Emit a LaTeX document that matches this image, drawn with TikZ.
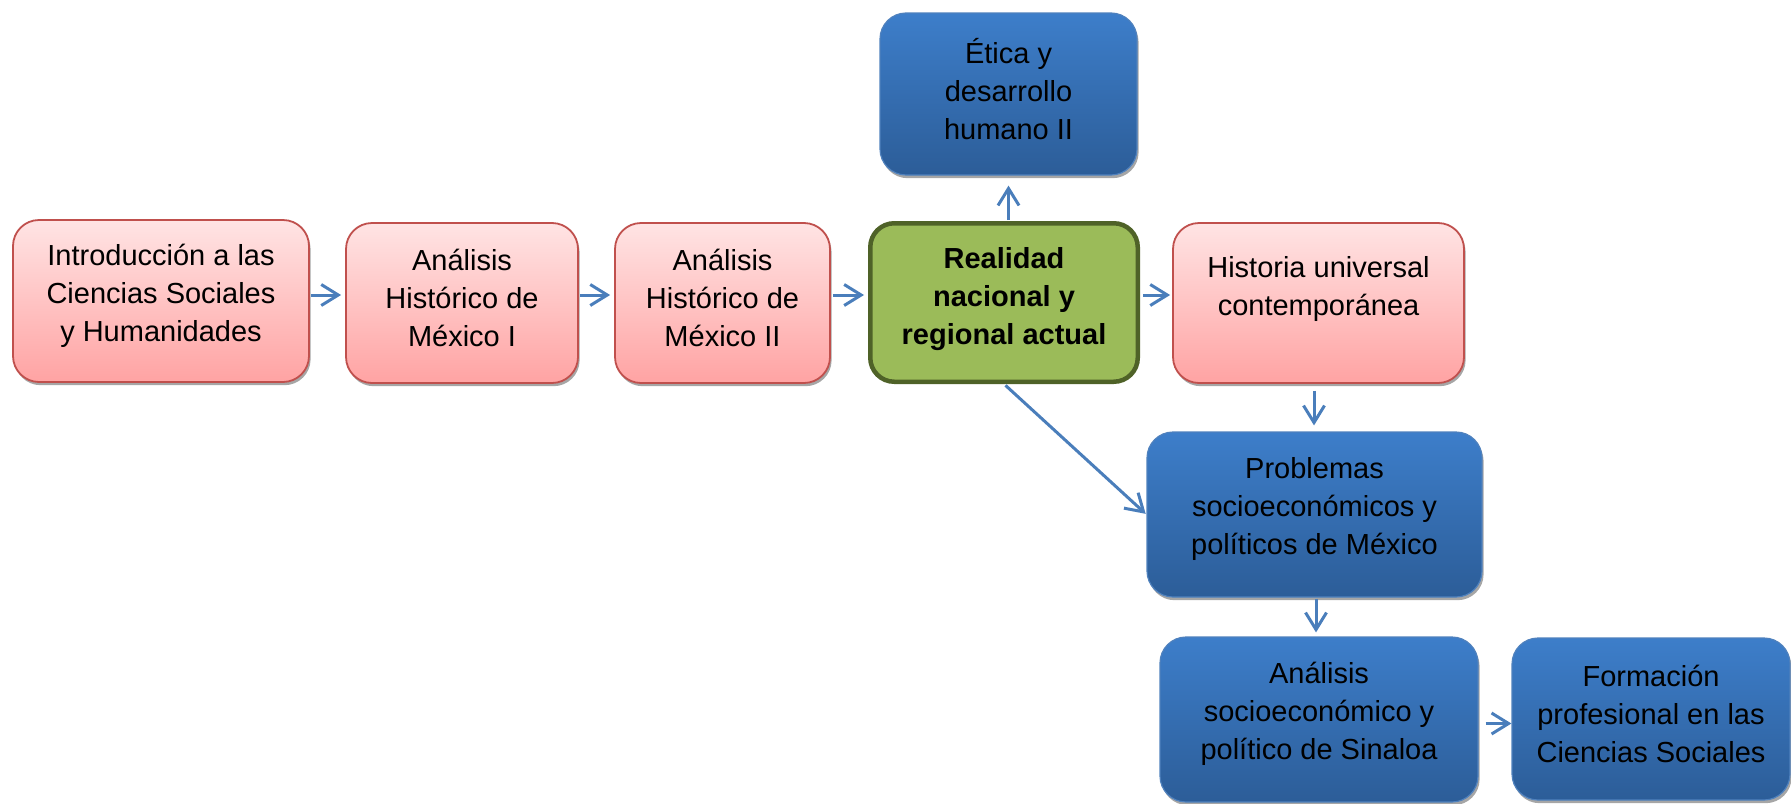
\documentclass[tikz,border=0pt]{standalone}
\usepackage{fontspec}
\setmainfont{Liberation Sans}
\usetikzlibrary{arrows.meta,shadows}
\definecolor{pinkTop}{RGB}{255,228,228}
\definecolor{pinkBot}{RGB}{255,163,163}
\definecolor{pinkLine}{RGB}{192,80,77}
\definecolor{blueTop}{RGB}{61,126,202}
\definecolor{blueBot}{RGB}{44,93,152}
\definecolor{blueLine}{RGB}{79,129,189}
\definecolor{greenFill}{RGB}{155,187,89}
\definecolor{greenLine}{RGB}{79,98,40}
\definecolor{arrowBlue}{RGB}{74,126,187}
\tikzset{
  boxbase/.style={rectangle, rounded corners=13pt, inner sep=0pt},
  boxshadow/.style={drop shadow={shadow xshift=0.8pt, shadow yshift=-1.6pt, fill=black, opacity=0.35}},
  pinkbox/.style={boxbase, boxshadow, draw=pinkLine, line width=0.9pt, top color=pinkTop, bottom color=pinkBot},
  bluebox/.style={boxbase, boxshadow, draw=blueLine, line width=0.6pt, top color=blueTop, bottom color=blueBot},
  greenbox/.style={boxbase, rounded corners=12pt, draw=greenLine, line width=2.25pt, fill=greenFill},
  txt/.style={align=center, inner sep=0pt, font=\fontsize{14.5pt}{19pt}\selectfont},
  boldtxt/.style={txt, font=\fontsize{14.5pt}{19pt}\selectfont\bfseries},
  arr/.style={draw=arrowBlue, line width=1.5pt, -{Straight Barb[length=8.5pt,width=10.5pt]}, shorten <=0.5pt, shorten >=2pt},
}
\begin{document}
\begin{tikzpicture}[x=0.5pt,y=-0.5pt]
\useasboundingbox (0,0) rectangle (1791,803);
% boxes
\node[pinkbox, minimum width=148pt, minimum height=81pt] (b1) at (161,301) {};
\node[pinkbox, minimum width=116pt, minimum height=80pt] (b2) at (462,303) {};
\node[pinkbox, minimum width=107.5pt, minimum height=80pt] (b3) at (722.5,303) {};
\node[greenbox, minimum width=133.75pt, minimum height=79.25pt] (g) at (1004,302.5) {};
\node[bluebox, minimum width=128.5pt, minimum height=81pt] (e) at (1008.5,94) {};
\node[pinkbox, minimum width=145.5pt, minimum height=80pt] (h) at (1318.5,303) {};
\node[bluebox, minimum width=167.5pt, minimum height=82.5pt] (p) at (1314.5,514.5) {};
\node[bluebox, minimum width=159pt, minimum height=82.5pt] (a) at (1319,719.5) {};
\node[bluebox, minimum width=139pt, minimum height=81pt] (f) at (1651,719) {};
% texts
\node[txt] (t1) at ([yshift=2.5pt]b1.center) {Introducción a las\\Ciencias Sociales\\y Humanidades};
\node[txt] (t2) at ([yshift=2.5pt]b2.center) {Análisis\\Histórico de\\México I};
\node[txt] (t3) at ([yshift=2.5pt]b3.center) {Análisis\\Histórico de\\México II};
\node[boldtxt] (tg) at ([yshift=1.5pt]g.center) {Realidad\\nacional y\\regional actual};
\node[txt] (te) at ([yshift=2.5pt]e.center) {Ética y\\desarrollo\\humano II};
\node[txt] (th) at ([yshift=7.25pt]h.center) {Historia universal\\contemporánea};
\node[txt] (tp) at ([yshift=3pt]p.center) {Problemas\\socioeconómicos y\\políticos de México};
\node[txt] (ta) at ([yshift=3pt]a.center) {Análisis\\socioeconómico y\\político de Sinaloa};
\node[txt] (tf) at ([yshift=2.5pt]f.center) {Formación\\profesional en las\\Ciencias Sociales};
% connectors
\draw[arr] ([yshift=3pt]b1.east) -- ([yshift=3pt]b1.east -| b2.west);
\draw[arr] ([yshift=4pt]b2.east) -- ([yshift=4pt]b2.east -| b3.west);
\draw[arr, shorten <=1pt] ([yshift=4pt]b3.east) -- ([yshift=4pt]b3.east -| g.west);
\draw[arr, shorten <=1.5pt, shorten >=1pt] ([yshift=3.75pt]g.east) -- ([yshift=3.75pt]g.east -| h.west);
\draw[arr, shorten >=5pt] (g.north -| e.south) -- (e.south);
\draw[arr, shorten <=3.5pt, shorten >=3pt] ([xshift=-2.25pt]h.south) -- ([xshift=-2.25pt]h.south |- p.north);
\draw[arr, shorten <=1pt, shorten >=0.5pt] (g.south) -- (p.west);
\draw[arr, shorten <=0.5pt, shorten >=2pt] ([xshift=0.75pt]p.south) -- ([xshift=0.75pt]p.south |- a.north);
\draw[arr, shorten <=3.5pt, shorten >=0pt] ([yshift=-2pt]a.east) -- ([yshift=-2pt]a.east -| f.west);
\end{tikzpicture}
\end{document}
